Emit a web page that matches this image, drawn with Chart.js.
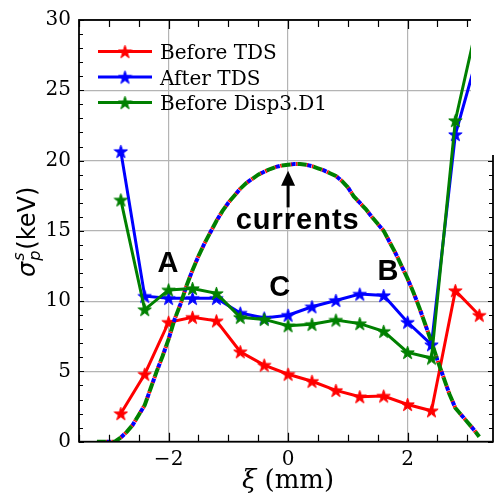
<!DOCTYPE html>
<html>
<head>
<meta charset="utf-8">
<script src="https://cdn.jsdelivr.net/npm/chart.js@4.4.1/dist/chart.umd.min.js"></script>
<style>
  html, body { margin: 0; padding: 0; background: #fff; overflow: hidden; }
  #wrap { width: 498px; height: 498px; overflow: hidden; position: relative; }
  canvas { display: block; }
</style>
</head>
<body>
<div id="wrap"><canvas id="c" width="502" height="498"></canvas></div>
<script>
// Longitudinal position of the slices (mm)
const xi = [-2.8, -2.4, -2.0, -1.6, -1.2, -0.8, -0.4, 0.0, 0.4, 0.8, 1.2, 1.6, 2.0, 2.4, 2.8, 3.2];

// Slice energy spread (keV)
const beforeTDS  = [2.0, 4.8, 8.5, 8.85, 8.6, 6.4, 5.45, 4.8, 4.3, 3.65, 3.2, 3.25, 2.65, 2.2, 10.75, 9.0];
const afterTDS   = [20.65, 10.35, 10.2, 10.2, 10.2, 9.15, 8.8, 9.0, 9.6, 10.05, 10.5, 10.4, 8.5, 6.9, 21.85, 27.9];
const beforeDisp = [17.2, 9.4, 10.8, 10.9, 10.55, 8.85, 8.7, 8.25, 8.35, 8.65, 8.4, 7.85, 6.35, 5.95, 22.85, 30.4];

// Current profile (arbitrary scale), same for all three cases
const currentXi = [
  -3.2, -3.1, -3.0, -2.9, -2.8, -2.7, -2.6, -2.5, -2.4, -2.3, -2.2, -2.1, -2.0,
  -1.9, -1.8, -1.7, -1.6, -1.5, -1.4, -1.3, -1.2, -1.1, -1.0, -0.9, -0.8, -0.7,
  -0.6, -0.5, -0.4, -0.3, -0.2, -0.1, 0.0, 0.1, 0.2, 0.3, 0.4, 0.5, 0.6, 0.7,
  0.8, 0.9, 1.0, 1.1, 1.2, 1.3, 1.4, 1.5, 1.6, 1.7, 1.8, 1.9, 2.0, 2.1, 2.2,
  2.3, 2.4, 2.5, 2.6, 2.7, 2.8, 2.9, 3.0, 3.1, 3.2
];
const currentProfile = [
  0, 0, 0, 0, 0.3, 0.7, 1.2, 1.9, 2.6, 3.8, 5.0, 6.1, 7.3,
  8.7, 9.8, 11.1, 12.2, 13.2, 14.1, 14.9, 15.7, 16.4, 17.0, 17.5, 18.0, 18.4,
  18.7, 19.0, 19.2, 19.4, 19.55, 19.65, 19.7, 19.75, 19.75, 19.7, 19.6, 19.45, 19.3, 19.1,
  18.9, 18.55, 18.1, 17.45, 17.0, 16.55, 16.0, 15.5, 15.0, 14.2, 13.4, 12.5, 11.6, 10.6, 9.5,
  8.3, 7.1, 5.8, 4.6, 3.4, 2.4, 1.9, 1.4, 0.9, 0.35
];

// Axis ticks
const xMajorTicks = [-2, 0, 2];
const xMinorTicks = [-3.5, -3, -2.5, -1.5, -1, -0.5, 0.5, 1, 1.5, 2.5, 3];
const yMajorTicks = [0, 5, 10, 15, 20, 25, 30];
const yMinorTicks = [1, 2, 3, 4, 6, 7, 8, 9, 11, 12, 13, 14, 16, 17, 18, 19, 21, 22, 23, 24, 26, 27, 28, 29];

const seriesLabels = ['Before TDS', 'After TDS', 'Before Disp3.D1'];
const seriesColors = ['#ff0000', '#0000ff', '#008000'];

function pairs(xs, ys) { return xs.map((v, i) => ({ x: v, y: ys[i] })); }

// Filled five-pointed star used as point marker
function starMarker(color) {
  const s = 15, c = document.createElement('canvas');
  c.width = s; c.height = s;
  const g = c.getContext('2d');
  const R = 7, r = R * 0.382, cx = s / 2, cy = s / 2 + 0.6;
  g.beginPath();
  for (let i = 0; i < 10; i++) {
    const rad = i % 2 === 0 ? R : r;
    const a = -Math.PI / 2 + i * Math.PI / 5;
    const px = cx + rad * Math.cos(a), py = cy + rad * Math.sin(a);
    if (i === 0) g.moveTo(px, py); else g.lineTo(px, py);
  }
  g.closePath();
  g.fillStyle = color; g.fill();
  g.strokeStyle = color; g.lineWidth = 1; g.stroke();
  return c;
}
const stars = seriesColors.map(starMarker);

function solidSet(i, values, order) {
  return {
    label: seriesLabels[i], data: pairs(xi, values),
    borderColor: seriesColors[i], backgroundColor: seriesColors[i],
    borderWidth: 3, pointStyle: stars[i], pointRadius: 6, tension: 0, order
  };
}
// The three current curves share one 16px dash period, each filling part of it
function currentSet(i, dash, offset, order) {
  return {
    label: 'current', data: pairs(currentXi, currentProfile),
    borderColor: seriesColors[i], borderWidth: 4, borderDash: dash, borderDashOffset: offset,
    pointRadius: 0, tension: 0, order
  };
}

// Frame with inward ticks on all four sides
const framePlugin = {
  id: 'frame',
  afterDraw(chart) {
    const { ctx, chartArea: a, scales: { x, y } } = chart;
    ctx.save();
    ctx.strokeStyle = '#000';
    ctx.lineWidth = 1.2;
    ctx.beginPath();
    const tickX = (v, len) => {
      const px = Math.round(x.getPixelForValue(v)) + 0.5;
      ctx.moveTo(px, a.bottom); ctx.lineTo(px, a.bottom - len);
      ctx.moveTo(px, a.top); ctx.lineTo(px, a.top + len);
    };
    const tickY = (v, len) => {
      const py = Math.round(y.getPixelForValue(v)) + 0.5;
      ctx.moveTo(a.left, py); ctx.lineTo(a.left + len, py);
      ctx.moveTo(a.right, py); ctx.lineTo(a.right - len, py);
    };
    xMajorTicks.forEach(v => tickX(v, 9));
    xMinorTicks.forEach(v => tickX(v, 7));
    yMajorTicks.forEach(v => tickY(v, 5));
    yMinorTicks.forEach(v => tickY(v, 4));
    ctx.stroke();
    ctx.lineWidth = 1.8;
    ctx.strokeRect(a.left, a.top, a.right - a.left, a.bottom - a.top);
    ctx.restore();
  }
};

// Legend box in the upper-left corner of the plot
const legendPlugin = {
  id: 'innerLegend',
  afterDraw(chart) {
    const { ctx, chartArea: a } = chart;
    ctx.save();
    ctx.font = '20px "DejaVu Serif"';
    ctx.textBaseline = 'alphabetic';
    for (let i = 0; i < 3; i++) {
      const cy = a.top + 31.6 + i * 25.5;
      ctx.strokeStyle = seriesColors[i];
      ctx.lineWidth = 3;
      ctx.beginPath(); ctx.moveTo(a.left + 19, cy); ctx.lineTo(a.left + 73, cy); ctx.stroke();
      ctx.drawImage(stars[i], a.left + 46 - 7.5, cy - 7.5);
      ctx.fillStyle = '#000';
      ctx.fillText(seriesLabels[i], a.left + 81, cy + 7.5);
    }
    ctx.restore();
  }
};

// Labels inside the plot: regions A, B, C and the current profile marker
const notePlugin = {
  id: 'notes',
  afterDatasetsDraw(chart) {
    const { ctx, scales: { x, y } } = chart;
    ctx.save();
    ctx.fillStyle = '#000';
    ctx.textAlign = 'center';
    ctx.textBaseline = 'alphabetic';
    ctx.font = 'bold 29px "Liberation Sans"';
    ctx.fillText('A', x.getPixelForValue(-2.01), y.getPixelForValue(12.1));
    ctx.fillText('B', x.getPixelForValue(1.67), y.getPixelForValue(11.5));
    ctx.fillText('C', x.getPixelForValue(-0.14), y.getPixelForValue(10.4));
    ctx.letterSpacing = '1px';
    ctx.fillText('currents', x.getPixelForValue(0.16), y.getPixelForValue(15.12));
    ctx.letterSpacing = '0px';
    // arrow pointing at the current profile
    const ax = x.getPixelForValue(0);
    const y0 = y.getPixelForValue(16.67), y1 = y.getPixelForValue(19.27);
    ctx.strokeStyle = '#000'; ctx.lineWidth = 3;
    ctx.beginPath(); ctx.moveTo(ax, y0); ctx.lineTo(ax, y1 + 12); ctx.stroke();
    ctx.beginPath();
    ctx.moveTo(ax, y1); ctx.lineTo(ax - 7, y1 + 15); ctx.lineTo(ax + 7, y1 + 15); ctx.closePath();
    ctx.fill();
    ctx.restore();
  }
};

// Axis titles: italic symbols with sub/superscripts
const titlePlugin = {
  id: 'axisTitles',
  afterDraw(chart) {
    const { ctx, chartArea: a } = chart;
    ctx.save();
    ctx.fillStyle = '#000';
    ctx.textBaseline = 'alphabetic';

    // horizontal: ξ (mm)
    const xIt = 'italic 26px "DejaVu Serif"', xUp = '26px "DejaVu Serif"';
    ctx.font = xIt; const wXi = ctx.measureText('ξ').width;
    ctx.font = xUp; const wMm = ctx.measureText(' (mm)').width;
    let hx = (a.left + a.right) / 2 + 2 - (wXi + wMm) / 2;
    ctx.font = xIt; ctx.fillText('ξ', hx, 488); hx += wXi;
    ctx.font = xUp; ctx.fillText(' (mm)', hx, 488);

    // vertical: σ_p^s (keV)
    ctx.translate(35, (a.top + a.bottom) / 2 + 1);
    ctx.rotate(-Math.PI / 2);
    const big = '24px "DejaVu Sans"', bigIt = 'oblique 24px "DejaVu Sans"', small = 'oblique 16px "DejaVu Sans"';
    ctx.font = bigIt; const wS = ctx.measureText('σ').width;
    ctx.font = small; const wP = Math.max(ctx.measureText('p').width, ctx.measureText('s').width);
    ctx.font = big; const wK = ctx.measureText('(keV)').width;
    let cx = -(wS + wP + 2 + wK) / 2;
    ctx.font = bigIt; ctx.fillText('σ', cx, 0); cx += wS + 1;
    ctx.font = small; ctx.fillText('s', cx, -11); ctx.fillText('p', cx, 5); cx += wP + 1;
    ctx.font = big; ctx.fillText('(keV)', cx, 0);
    ctx.restore();
  }
};

// Blank corner at the top right
const cornerPlugin = {
  id: 'corner',
  afterDraw(chart) {
    const ctx = chart.ctx;
    ctx.save();
    ctx.fillStyle = '#fff';
    ctx.fillRect(471, 0, 40, 155);
    ctx.restore();
  }
};

new Chart(document.getElementById('c'), {
  type: 'line',
  data: {
    datasets: [
      solidSet(0, beforeTDS, 6),
      currentSet(0, [1.5, 4, 1.5, 9], 7, 5),
      solidSet(1, afterTDS, 4),
      currentSet(1, [4, 12], 6, 3),
      solidSet(2, beforeDisp, 2),
      currentSet(2, [9, 7], 0, 1)
    ]
  },
  options: {
    responsive: false,
    animation: false,
    devicePixelRatio: 1,
    layout: { padding: { left: 0, right: 3.5, top: 15.7, bottom: 0 } },
    plugins: { legend: { display: false }, tooltip: { enabled: false } },
    scales: {
      x: {
        type: 'linear', min: -3.5, max: 3.43,
        afterBuildTicks: s => { s.ticks = xMajorTicks.map(v => ({ value: v })); },
        afterFit: s => { s.height = 56.3; },
        grid: { color: '#b4b4b4', lineWidth: 1.2, drawTicks: false },
        border: { display: false },
        ticks: {
          padding: 6, color: '#000', font: { family: 'DejaVu Serif', size: 20 },
          callback: v => (v < 0 ? '\u2212' : '') + Math.abs(v)
        }
      },
      y: {
        min: 0, max: 30,
        afterBuildTicks: s => { s.ticks = yMajorTicks.map(v => ({ value: v })); },
        afterFit: s => { s.width = 79; },
        grid: { color: '#b4b4b4', lineWidth: 1.2, drawTicks: false },
        border: { display: false },
        ticks: { padding: 8, color: '#000', font: { family: 'DejaVu Serif', size: 20 } }
      }
    }
  },
  plugins: [framePlugin, legendPlugin, notePlugin, titlePlugin, cornerPlugin]
});
</script>
</body>
</html>
